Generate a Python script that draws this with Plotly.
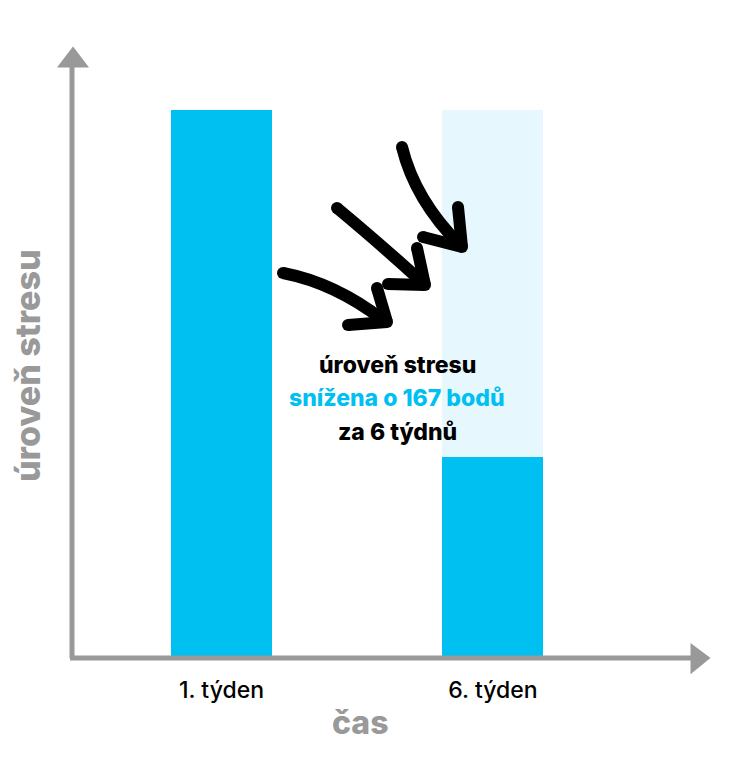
import plotly.graph_objects as go

# ---- data ----
weeks = ["1. týden", "6. týden"]
stress = [264, 97]
baseline = [None, 264]
y_title = "úroveň stresu"
x_title = "čas"
note_lines = ["úroveň stresu", "snížena o 167 bodů", "za 6 týdnů"]

# ---- style ----
OFF = 8  # page body margin
W, H = 729 - OFF, 767 - OFF
# plot area in page pixels: x 72..710, y 45..658
L = 72 - OFF
T = 45 - OFF
R = (729 - 710) - 0
B = 767 - 658
W = L + (710 - 72) + R
H = T + (658 - 45) + B - OFF
PW, PH = 710 - 72, 658 - 45
CYAN = "#00BFF1"
LIGHT = "#E6F8FE"
GRAY = "#999999"
FONT = "Inter"


def px(x, y):
    # page pixel -> paper coords
    return (x - 72) / PW, (658 - y) / PH


def P(x, y):
    a, b = px(x, y)
    return f"{a:.5f},{b:.5f}"


fig = go.Figure()
fig.add_trace(go.Bar(x=weeks, y=baseline, marker=dict(color=LIGHT, line=dict(width=0)),
                     width=0.372, hoverinfo="skip", showlegend=False))
fig.add_trace(go.Bar(x=weeks, y=stress, marker=dict(color=CYAN, line=dict(width=0)),
                     width=0.372, showlegend=False))

shapes = []
shapes.append(dict(type="line", xref="paper", yref="paper",
                   x0=px(72, 658)[0], y0=px(72, 658)[1], x1=px(72, 62)[0], y1=px(72, 62)[1],
                   line=dict(color=GRAY, width=5), layer="above"))
shapes.append(dict(type="line", xref="paper", yref="paper",
                   x0=px(70, 658)[0], y0=px(70, 658)[1], x1=px(696, 658)[0], y1=px(696, 658)[1],
                   line=dict(color=GRAY, width=5), layer="above"))
shapes.append(dict(type="path", xref="paper", yref="paper",
                   path=f"M{P(73,49)} L{P(86,66)} L{P(60,66)} Z",
                   fillcolor=GRAY, line=dict(color=GRAY, width=3), layer="above"))
shapes.append(dict(type="path", xref="paper", yref="paper",
                   path=f"M{P(708,658)} L{P(692,646)} L{P(692,671)} Z",
                   fillcolor=GRAY, line=dict(color=GRAY, width=3), layer="above"))

SW = 12
strokes = [
    (f"M{P(283,273)} Q{P(335,283)} {P(383,320)}", [(283, 273), (383, 320)]),
    (f"M{P(377,288)} L{P(387,322)} M{P(348,325)} L{P(387,322)}", [(377, 288), (387, 322), (348, 325)]),
    (f"M{P(337,208)} Q{P(385,248)} {P(423,283)}", [(337, 208), (423, 283)]),
    (f"M{P(417,248)} L{P(425,285)} M{P(388,284)} L{P(425,285)}", [(417, 248), (425, 285), (388, 284)]),
    (f"M{P(402,147)} Q{P(415,200)} {P(460,245)}", [(402, 147), (460, 245)]),
    (f"M{P(458,207)} L{P(462,247)} M{P(423,237)} L{P(462,247)}", [(458, 207), (462, 247), (423, 237)]),
]
r = SW / 2
for p, ends in strokes:
    shapes.append(dict(type="path", xref="paper", yref="paper", path=p,
                       line=dict(color="black", width=SW), layer="above"))
    for (x, y) in ends:
        a0, b0 = px(x - r, y + r)
        a1, b1 = px(x + r, y - r)
        shapes.append(dict(type="circle", xref="paper", yref="paper",
                           x0=a0, y0=b0, x1=a1, y1=b1,
                           fillcolor="black", line=dict(width=0), layer="above"))

annotations = []
cx = px(397, 0)[0]
for txt, yy, col in zip(note_lines, [365, 398, 432], ["black", CYAN, "black"]):
    annotations.append(dict(text=txt, xref="paper", yref="paper", x=cx, y=px(0, yy)[1],
                            showarrow=False, xanchor="center", yanchor="middle",
                            font=dict(family=FONT, size=23, color=col, weight=800)))
annotations.append(dict(text=x_title, xref="paper", yref="paper", x=px(360, 0)[0], y=px(0, 722)[1],
                        showarrow=False, xanchor="center", yanchor="middle",
                        font=dict(family=FONT, size=32, color=GRAY, weight=800)))
annotations.append(dict(text=y_title, xref="paper", yref="paper", x=px(27, 0)[0], y=px(0, 366)[1],
                        showarrow=False, xanchor="center", yanchor="middle", textangle=-90,
                        font=dict(family=FONT, size=34, color=GRAY, weight=800)))

fig.update_layout(
    width=W, height=H,
    margin=dict(l=L, r=R, t=T, b=B - OFF, autoexpand=False),
    paper_bgcolor="white", plot_bgcolor="white",
    barmode="overlay", bargap=0,
    shapes=shapes, annotations=annotations,
    xaxis=dict(type="category", range=[-0.5506, 1.7993], showgrid=False, zeroline=False,
               showline=False, ticks="", tickfont=dict(family=FONT, size=23, color="black", weight=500),
               ticklabelstandoff=16, fixedrange=True),
    yaxis=dict(range=[0, 295.3], showgrid=False, zeroline=False, showline=False,
               showticklabels=False, ticks="", fixedrange=True),
)

fig.write_html("out.html")
